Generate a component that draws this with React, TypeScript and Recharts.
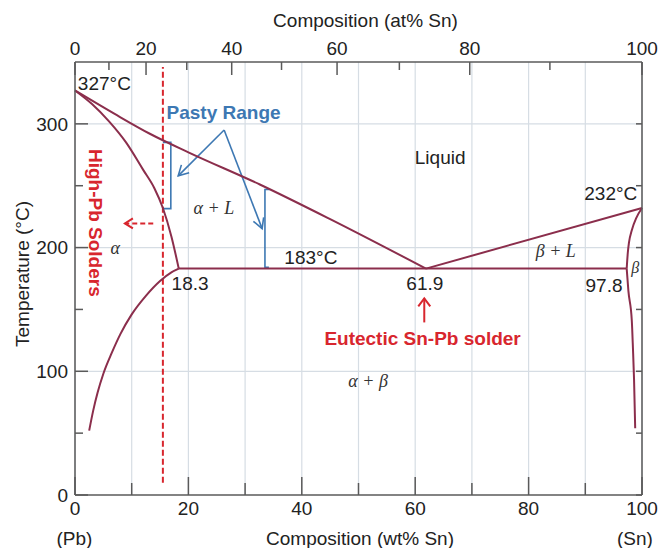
import { ComposedChart, XAxis, YAxis, CartesianGrid, ReferenceLine, Line, Scatter } from 'recharts';

// ---- data: composition in wt% Sn (w), temperature in °C (t) ----
const wtTicks = [0, 10, 20, 30, 40, 50, 60, 70, 80, 90, 100];
const atTicks = [0, 10, 20, 30, 40, 50, 60, 70, 80, 90, 100];
const tempTicks = [0, 50, 100, 150, 200, 250, 300];
const tempGrid = [100, 200, 300];

const liquidusPb = [
  { w: 0, t: 327 }, { w: 7, t: 308 }, { w: 13.2, t: 292 }, { w: 20, t: 277 },
  { w: 32.6, t: 251 }, { w: 45, t: 223 }, { w: 61.9, t: 183 },
];
const liquidusSn = [{ w: 61.9, t: 183 }, { w: 100, t: 232 }];
const solidusAlpha = [
  { w: 0, t: 327 }, { w: 3, t: 316 }, { w: 6, t: 302 }, { w: 9, t: 285 }, { w: 12, t: 263 },
  { w: 14, t: 248 }, { w: 15.5, t: 232 }, { w: 17, t: 209 }, { w: 18.3, t: 183 },
];
const solvusAlpha = [
  { w: 2.5, t: 52 }, { w: 3.2, t: 68 }, { w: 4, t: 83 }, { w: 5, t: 98 }, { w: 6.5, t: 115 },
  { w: 8, t: 130 }, { w: 10, t: 146 }, { w: 12.5, t: 161 }, { w: 15, t: 173 }, { w: 17, t: 180 },
  { w: 18.3, t: 183 },
];
const eutectic = [{ w: 18.3, t: 183 }, { w: 97.3, t: 183 }];
const solidusBeta = [
  { w: 97.3, t: 183 }, { w: 97.5, t: 196 }, { w: 97.7, t: 204 }, { w: 98.2, t: 214 },
  { w: 99, t: 224 }, { w: 100, t: 232 },
];
const solvusBeta = [
  { w: 97.3, t: 183 }, { w: 97.6, t: 165 }, { w: 98.2, t: 141 }, { w: 98.4, t: 119 },
  { w: 98.6, t: 93 }, { w: 98.8, t: 54 },
];
const highPbLimit = [{ w: 15.5, t: 10 }, { w: 15.5, t: 346 }];
const pastyLow = [{ w: 15.5, t: 285 }, { w: 16.9, t: 285 }, { w: 16.9, t: 231.5 }, { w: 15.5, t: 231.5 }];
const pastyHigh = [{ w: 34.3, t: 247 }, { w: 33.5, t: 247 }, { w: 33.5, t: 184 }, { w: 34.2, t: 184 }];
const frameCorners = [{ w: 0, t: 0 }, { w: 100, t: 350 }];

// arrows: [tail, tip]
const highPbArrow = [{ w: 13.8, t: 219.5 }, { w: 8.8, t: 219.5 }];
const eutecticArrow = [{ w: 61.6, t: 139.5 }, { w: 61.6, t: 159 }];
const pastyArrowA = [{ w: 26.3, t: 295 }, { w: 18.2, t: 258 }];
const pastyArrowB = [{ w: 26.3, t: 295 }, { w: 33, t: 215.3 }];

// ---- layout / style ----
const W = 658;
const H = 548;
const PLOT_W = 567;
const PLOT_H = 433;
const INK = '#222';
const MAROON = '#8b2e4c';
const BLUE = '#3d78b3';
const RED = '#d8262e';
const GRID = '#d6dde4';
const AXIS = '#5a5a5a';
const SANS = '"Liberation Sans", Arial, sans-serif';
const SERIF = '"Liberation Serif", "Times New Roman", serif';

const M_SN = 118.71;
const M_PB = 207.2;
const atToWt = (a: number) => ((a * M_SN) / (a * M_SN + (100 - a) * M_PB)) * 100;
const atTickPos = atTicks.map(atToWt);

type Pt = { w: number; t: number };

// open V arrowhead, sized in pixels, returned in data units
function arrowHead(from: Pt, to: Pt, len: number, half: number): Pt[] {
  const kx = PLOT_W / 100;
  const ky = PLOT_H / 350;
  const dx = (to.w - from.w) * kx;
  const dy = (to.t - from.t) * ky;
  const l = Math.hypot(dx, dy);
  const ux = dx / l;
  const uy = dy / l;
  const bx = -ux * len;
  const by = -uy * len;
  const px = -uy * half;
  const py = ux * half;
  return [
    { w: to.w + (bx + px) / kx, t: to.t + (by + py) / ky },
    to,
    { w: to.w + (bx - px) / kx, t: to.t + (by - py) / ky },
  ];
}

const notes = [
  { w: 0.5, t: 333, text: '327°C', kind: 'plain', anchor: 'start' },
  { w: 26.2, t: 309.5, text: 'Pasty Range', kind: 'blue' },
  { w: 64.4, t: 272.5, text: 'Liquid', kind: 'plain' },
  { w: 94.5, t: 243.5, text: '232°C', kind: 'plain' },
  { w: 24.5, t: 232, text: 'α + L', kind: 'greek' },
  { w: 7.1, t: 200, text: 'α', kind: 'greek' },
  { w: 41.6, t: 192, text: '183°C', kind: 'plain' },
  { w: 84.8, t: 197.5, text: 'β + L', kind: 'greek' },
  { w: 98.8, t: 184, text: 'β', kind: 'greekSmall' },
  { w: 20.3, t: 171, text: '18.3', kind: 'plain' },
  { w: 61.7, t: 171, text: '61.9', kind: 'plain' },
  { w: 93.3, t: 169, text: '97.8', kind: 'plain' },
  { w: 61.3, t: 126.5, text: 'Eutectic Sn-Pb solder', kind: 'red' },
  { w: 51.7, t: 92.5, text: 'α + β', kind: 'greek' },
  { w: 3.7, t: 220, text: 'High-Pb Solders', kind: 'redV' },
];

const noteStyle: Record<string, any> = {
  plain: { fontFamily: SANS, fontSize: 19, fill: INK },
  blue: { fontFamily: SANS, fontSize: 19, fontWeight: 700, fill: BLUE },
  red: { fontFamily: SANS, fontSize: 19, fontWeight: 700, fill: RED },
  redV: { fontFamily: SANS, fontSize: 19, fontWeight: 700, fill: RED },
  greek: { fontFamily: SERIF, fontSize: 18, fontStyle: 'italic', fill: '#333' },
  greekSmall: { fontFamily: SERIF, fontSize: 16, fontStyle: 'italic', fill: '#333' },
};

function Note(props: any) {
  const { cx, cy, payload } = props;
  const rot = payload.kind === 'redV' ? `rotate(90 ${cx} ${cy})` : undefined;
  return (
    <text
      x={cx}
      y={cy}
      dominantBaseline="central"
      textAnchor={payload.anchor ?? 'middle'}
      transform={rot}
      {...noteStyle[payload.kind]}
    >
      {payload.text}
    </text>
  );
}

function BottomTick({ x, y, payload }: any) {
  const major = payload.value % 20 === 0;
  return (
    <g>
      <line x1={x} x2={x} y1={y} y2={y - (major ? 18 : 12)} stroke={AXIS} strokeWidth={1.5} />
      {major && (
        <text x={x} y={y + 20} textAnchor="middle" fontSize={19} fontFamily={SANS} fill={INK}>
          {payload.value}
        </text>
      )}
    </g>
  );
}

function TopTick({ x, y, index }: any) {
  const label = atTicks[index];
  const major = label % 20 === 0;
  return (
    <g>
      <line x1={x} x2={x} y1={y} y2={y + (major ? 13 : 8)} stroke={AXIS} strokeWidth={1.5} />
      {major && (
        <text x={x} y={y - 7} textAnchor="middle" fontSize={19} fontFamily={SANS} fill={INK}>
          {label}
        </text>
      )}
    </g>
  );
}

function LeftTick({ x, y, payload }: any) {
  const major = payload.value % 100 === 0;
  return (
    <g>
      <line x1={x} x2={x + (major ? 13 : 8)} y1={y} y2={y} stroke={AXIS} strokeWidth={1.5} />
      {major && (
        <text x={x - 7} y={y} dy="0.36em" textAnchor="end" fontSize={19} fontFamily={SANS} fill={INK}>
          {payload.value}
        </text>
      )}
    </g>
  );
}

function RightTick({ x, y }: any) {
  return <line x1={x} x2={x - 6} y1={y} y2={y} stroke={AXIS} strokeWidth={1.5} />;
}

const axisLine = { stroke: AXIS, strokeWidth: 1.5 };

export default function App() {
  const curves = [liquidusPb, liquidusSn, solidusAlpha, solvusAlpha, solidusBeta, solvusBeta];
  const blueArrows = [pastyArrowA, pastyArrowB];

  return (
    <div style={{ position: 'absolute', left: 0, top: 0, width: W, height: H, background: '#fff' }}>
      <ComposedChart width={W} height={H} margin={{ top: 32, right: 6, bottom: 23, left: 35 }}>
        <CartesianGrid horizontal={false} stroke={GRID} strokeWidth={1.2} />
        {tempGrid.map((t) => (
          <ReferenceLine key={t} y={t} stroke={GRID} strokeWidth={1.2} />
        ))}
        <XAxis
          type="number"
          dataKey="w"
          domain={[0, 100]}
          ticks={wtTicks}
          interval={0}
          height={30}
          tickSize={0}
          tickMargin={0}
          tickLine={false}
          axisLine={axisLine}
          tick={(p: any) => <BottomTick {...p} />}
        />
        <XAxis
          xAxisId="at"
          orientation="top"
          type="number"
          dataKey="w"
          domain={[0, 100]}
          ticks={atTickPos}
          interval={0}
          height={30}
          tickSize={0}
          tickMargin={0}
          tickLine={false}
          axisLine={axisLine}
          tick={(p: any) => <TopTick {...p} />}
        />
        <YAxis
          type="number"
          domain={[0, 350]}
          ticks={tempTicks}
          interval={0}
          width={40}
          tickSize={0}
          tickMargin={0}
          tickLine={false}
          axisLine={axisLine}
          tick={(p: any) => <LeftTick {...p} />}
        />
        <YAxis
          yAxisId="r"
          orientation="right"
          type="number"
          domain={[0, 350]}
          ticks={tempTicks}
          interval={0}
          width={10}
          tickSize={0}
          tickMargin={0}
          tickLine={false}
          axisLine={axisLine}
          tick={(p: any) => <RightTick {...p} />}
        />

        {/* invisible series so the top and right axes are drawn */}
        <Line
          xAxisId="at"
          yAxisId="r"
          data={frameCorners}
          dataKey="t"
          stroke="none"
          dot={false}
          activeDot={false}
          isAnimationActive={false}
        />

        <Line
          data={highPbLimit}
          dataKey="t"
          type="linear"
          stroke={RED}
          strokeWidth={2}
          strokeDasharray="6 3"
          dot={false}
          activeDot={false}
          isAnimationActive={false}
        />
        <Line
          data={highPbArrow}
          dataKey="t"
          type="linear"
          stroke={RED}
          strokeWidth={2}
          strokeDasharray="5 3"
          dot={false}
          activeDot={false}
          isAnimationActive={false}
        />
        <Line
          data={arrowHead(highPbArrow[0], highPbArrow[1], 8, 5)}
          dataKey="t"
          type="linear"
          stroke={RED}
          strokeWidth={2}
          dot={false}
          activeDot={false}
          isAnimationActive={false}
        />
        <Line
          data={eutecticArrow}
          dataKey="t"
          type="linear"
          stroke={RED}
          strokeWidth={2}
          dot={false}
          activeDot={false}
          isAnimationActive={false}
        />
        <Line
          data={arrowHead(eutecticArrow[0], eutecticArrow[1], 8, 6)}
          dataKey="t"
          type="linear"
          stroke={RED}
          strokeWidth={2}
          dot={false}
          activeDot={false}
          isAnimationActive={false}
        />

        {[pastyLow, pastyHigh].map((d, i) => (
          <Line
            key={`br${i}`}
            data={d}
            dataKey="t"
            type="linear"
            stroke={BLUE}
            strokeWidth={1.6}
            dot={false}
            activeDot={false}
            isAnimationActive={false}
          />
        ))}
        {blueArrows.map((a, i) => (
          <Line
            key={`ba${i}`}
            data={a}
            dataKey="t"
            type="linear"
            stroke={BLUE}
            strokeWidth={1.6}
            dot={false}
            activeDot={false}
            isAnimationActive={false}
          />
        ))}
        {blueArrows.map((a, i) => (
          <Line
            key={`bh${i}`}
            data={arrowHead(a[0], a[1], 10, 5.5)}
            dataKey="t"
            type="linear"
            stroke={BLUE}
            strokeWidth={1.6}
            dot={false}
            activeDot={false}
            isAnimationActive={false}
          />
        ))}

        <Line
          data={eutectic}
          dataKey="t"
          type="linear"
          stroke={MAROON}
          strokeWidth={2}
          dot={false}
          activeDot={false}
          isAnimationActive={false}
        />
        {curves.map((d, i) => (
          <Line
            key={`c${i}`}
            data={d}
            dataKey="t"
            type="monotone"
            stroke={MAROON}
            strokeWidth={2}
            dot={false}
            activeDot={false}
            isAnimationActive={false}
          />
        ))}

        <Scatter data={notes} dataKey="t" shape={(p: any) => <Note {...p} />} isAnimationActive={false} />
      </ComposedChart>

      <svg width={W} height={H} style={{ position: 'absolute', left: 0, top: 0, pointerEvents: 'none' }}>
        <g fontFamily={SANS} fontSize={19} fill={INK}>
          <text x={365.5} y={27} textAnchor="middle">Composition (at% Sn)</text>
          <text x={360} y={545} textAnchor="middle">Composition (wt% Sn)</text>
          <text x={74.5} y={545} textAnchor="middle">(Pb)</text>
          <text x={635} y={545} textAnchor="middle">(Sn)</text>
          <text x={22} y={274} textAnchor="middle" dominantBaseline="central" transform="rotate(-90 22 274)">
            Temperature (°C)
          </text>
        </g>
      </svg>
    </div>
  );
}
